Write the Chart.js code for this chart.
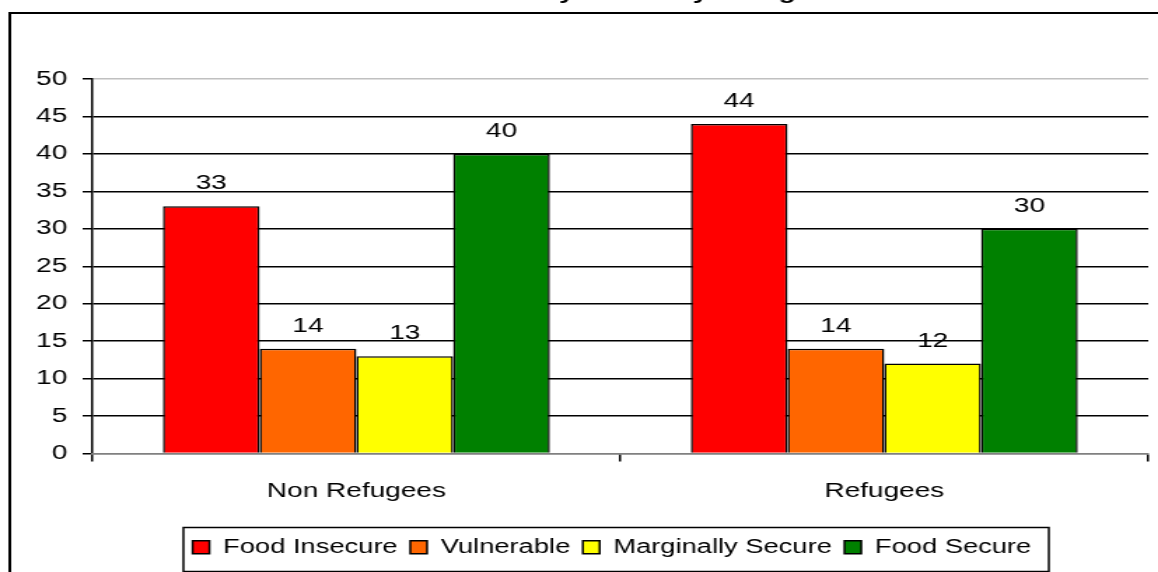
<!DOCTYPE html>
<html>
<head>
<meta charset="utf-8">
<script src="https://cdn.jsdelivr.net/npm/chart.js@4/dist/chart.umd.min.js"></script>
<style>
  html, body { margin: 0; padding: 0; background: #fff; overflow: hidden; }
  #wrap { width: 827px; height: 572px; transform: scaleX(1.4003); transform-origin: 0 0; }
  canvas { display: block; }
</style>
</head>
<body>
<div id="wrap"><canvas id="foodChart" width="827" height="572"></canvas></div>
<script>
const chartTitle = 'Food Security Status by Refugee Status';
const categories = ['Non Refugees', 'Refugees'];
const seriesNames = ['Food Insecure', 'Vulnerable', 'Marginally Secure', 'Food Secure'];
const foodInsecure = [33, 44];
const vulnerable = [14, 14];
const marginallySecure = [13, 12];
const foodSecure = [40, 30];
const yTicks = [0, 5, 10, 15, 20, 25, 30, 35, 40, 45, 50];

const colors = ['#ff0000', '#ff6600', '#ffff00', '#008000'];
const values = [foodInsecure, vulnerable, marginallySecure, foodSecure];
const FONT = "'Liberation Sans', Arial, sans-serif";

Chart.defaults.color = '#000';
Chart.defaults.font.family = FONT;

// frame, cut-off title, legend box and value labels
const decorations = {
    id: 'decorations',
    afterLayout(chart) {
        // legend sits a bit right of the canvas centre in the original
        chart.legend.left += 27;
        chart.legend.right += 27;
    },
    afterDatasetsDraw(chart) {
        const ctx = chart.ctx;
        ctx.save();
        ctx.fillStyle = '#000';
        ctx.font = '20px ' + FONT;
        ctx.textAlign = 'center';
        ctx.textBaseline = 'alphabetic';
        chart.data.datasets.forEach((ds, i) => {
            chart.getDatasetMeta(i).data.forEach((bar, j) => {
                ctx.fillText(String(ds.data[j]), bar.x, bar.y - 17);
            });
        });
        ctx.restore();
    },
    afterDraw(chart) {
        const ctx = chart.ctx;
        ctx.save();
        ctx.strokeStyle = '#000';
        ctx.lineWidth = 2;
        ctx.beginPath();
        ctx.moveTo(7, 572);
        ctx.lineTo(7, 13);
        ctx.lineTo(827, 13);
        ctx.stroke();

        ctx.lineWidth = 1.5;
        ctx.strokeRect(131, 527.5, 618, 44);

        ctx.fillStyle = '#000';
        ctx.font = 'bold 20px ' + FONT;
        ctx.textAlign = 'left';
        ctx.textBaseline = 'alphabetic';
        ctx.fillText(chartTitle, 277, -1);
        ctx.restore();
    }
};

new Chart(document.getElementById('foodChart').getContext('2d'), {
    type: 'bar',
    data: {
        labels: categories,
        datasets: seriesNames.map((name, i) => ({
            label: name,
            data: values[i],
            backgroundColor: colors[i],
            borderColor: '#000',
            borderWidth: 1.5,
            categoryPercentage: 0.733,
            barPercentage: 1
        }))
    },
    options: {
        responsive: false,
        devicePixelRatio: 1,
        animation: false,
        layout: { padding: { top: 79, bottom: 5, left: 0, right: 7 } },
        scales: {
            y: {
                min: 0,
                max: 50,
                afterBuildTicks: (scale) => { scale.ticks = yTicks.map(v => ({ value: v })); },
                afterFit: (scale) => { scale.width = 66; },
                ticks: { font: { size: 20 }, color: '#000', padding: 11 },
                grid: {
                    color: (c) => c.tick && c.tick.value === 50 ? '#c0c0c0' : (c.tick && c.tick.value === 0 ? '#808080' : '#000'),
                    tickColor: '#000',
                    lineWidth: 1.5,
                    tickLength: 7
                },
                border: { display: true, color: '#000', width: 1.5 }
            },
            x: {
                afterFit: (scale) => { scale.height = 75; },
                ticks: { font: { size: 20 }, color: '#000', padding: 18 },
                grid: {
                    offset: true,
                    drawOnChartArea: false,
                    color: '#000',
                    lineWidth: 1.5,
                    tickLength: 8
                },
                border: { display: true, color: '#808080', width: 1.5 }
            }
        },
        plugins: {
            legend: {
                position: 'bottom',
                labels: {
                    font: { size: 19.5 },
                    color: '#000',
                    boxWidth: 12,
                    boxHeight: 13,
                    padding: 9
                }
            },
            title: { display: false },
            tooltip: { enabled: false }
        }
    },
    plugins: [decorations]
});
</script>
</body>
</html>
